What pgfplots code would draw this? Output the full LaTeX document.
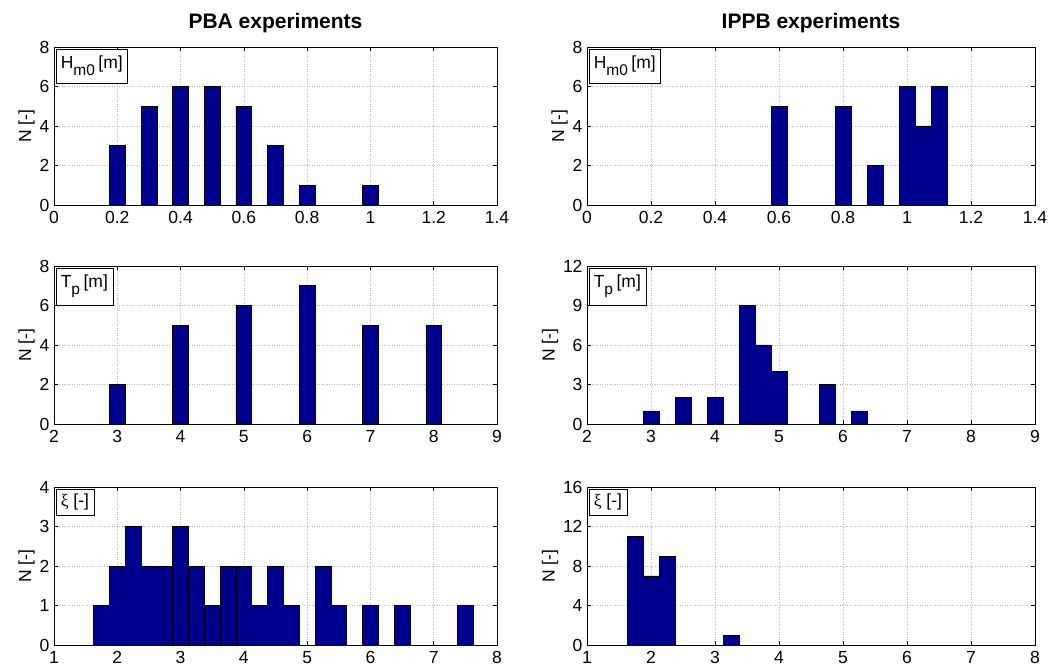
\documentclass[border=0pt]{standalone}
\usepackage{fontspec}
\setmainfont{Liberation Sans}
\newfontfamily\serifgreek{Liberation Serif}
\usepackage{pgfplots}
\pgfplotsset{compat=1.18}
\definecolor{barblue}{RGB}{0,0,143}
\pgfplotsset{
  hist/.style={
    scale only axis, height=158pt,
    ybar, bar shift=0pt,
    ymin=0,
    grid=major,
    grid style={dash pattern=on 1pt off 1.5pt, gray!55, line width=0.5pt},
    tick align=inside,
    major tick length=4pt,
    axis line style={black, line width=0.6pt},
    tick style={black, line width=0.5pt},
    ticklabel style={font=\fontsize{17.5}{19}\selectfont},
    xticklabel style={yshift=-3pt},
    yticklabel style={xshift=-1pt},
    /pgf/number format/assume math mode=true,
    ylabel={N [-]},
    ylabel style={font=\fontsize{17.5}{19}\selectfont, yshift=-2pt},
    title style={font=\bfseries\fontsize{21}{23}\selectfont, yshift=5pt},
    anchor=south west,
  },
  leftcol/.style={hist, width=443pt},
  rightcol/.style={hist, width=448pt},
  hm/.style={xmin=0, xmax=1.4, xtick={0,0.2,0.4,0.6,0.8,1,1.2,1.4},
     xticklabels={0,0.2,0.4,0.6,0.8,1,1.2,1.4}, bar width=0.05},
  tp/.style={xmin=2, xmax=9, xtick={2,3,4,5,6,7,8,9}, bar width=0.25},
  xi/.style={xmin=1, xmax=8, xtick={1,2,3,4,5,6,7,8}, bar width=0.25},
  barsty/.style={fill=barblue, draw=black, line width=0.6pt},
}
\tikzset{
  lbl/.style={draw=black, fill=white, anchor=north west, inner xsep=5pt, inner ysep=7pt,
     font=\fontsize{17.5}{19}\selectfont, xshift=1.5pt, yshift=-2pt, line width=0.6pt},
  lblx/.style={lbl, inner ysep=5pt},
}
\newcommand{\Hmo}{H\raisebox{-7pt}{\fontsize{15.5}{15.5}\selectfont m0}\hspace{0.2em}[m]}
\newcommand{\Tp}{T\raisebox{-7pt}{\fontsize{15.5}{15.5}\selectfont p}\hspace{0.2em}[m]}
\begin{document}
\begin{tikzpicture}[x=1pt,y=1pt]
\path[use as bounding box] (0,0) rectangle (1054,670);
% ---------- PBA ----------
\begin{axis}[leftcol, hm, at={(54pt,465pt)}, ymax=8, ytick={0,2,4,6,8},
  title={PBA experiments}]
\addplot[barsty] coordinates {(0.2,3) (0.3,5) (0.4,6) (0.5,6) (0.6,5) (0.7,3) (0.8,1) (1.0,1)};
\node[lbl] at (rel axis cs:0,1) {\Hmo};
\end{axis}
\begin{axis}[leftcol, tp, at={(54pt,246pt)}, ymax=8, ytick={0,2,4,6,8}]
\addplot[barsty] coordinates {(3,2) (4,5) (5,6) (6,7) (7,5) (8,5)};
\node[lbl] at (rel axis cs:0,1) {\Tp};
\end{axis}
\begin{axis}[leftcol, xi, at={(54pt,25pt)}, ymax=4, ytick={0,1,2,3,4}]
\addplot[barsty] coordinates {(1.75,1) (2.0,2) (2.25,3) (2.5,2) (2.75,2) (3.0,3) (3.25,2) (3.5,1) (3.75,2) (4.0,2) (4.25,1) (4.5,2) (4.75,1) (5.25,2) (5.5,1) (6.0,1) (6.5,1) (7.5,1)};
\node[lblx] at (rel axis cs:0,1) {{\serifgreek ξ} [-]};
\end{axis}
% ---------- IPPB ----------
\begin{axis}[rightcol, hm, at={(587pt,465pt)}, ymax=8, ytick={0,2,4,6,8},
  title={IPPB experiments}]
\addplot[barsty] coordinates {(0.6,5) (0.8,5) (0.9,2) (1.0,6) (1.05,4) (1.1,6)};
\node[lbl] at (rel axis cs:0,1) {\Hmo};
\end{axis}
\begin{axis}[rightcol, tp, at={(587pt,246pt)}, ymax=12, ytick={0,3,6,9,12}]
\addplot[barsty] coordinates {(3,1) (3.5,2) (4,2) (4.5,9) (4.75,6) (5.0,4) (5.75,3) (6.25,1)};
\node[lbl] at (rel axis cs:0,1) {\Tp};
\end{axis}
\begin{axis}[rightcol, xi, at={(587pt,25pt)}, ymax=16, ytick={0,4,8,12,16}]
\addplot[barsty] coordinates {(1.75,11) (2.0,7) (2.25,9) (3.25,1)};
\node[lblx] at (rel axis cs:0,1) {{\serifgreek ξ} [-]};
\end{axis}
\end{tikzpicture}
\end{document}
